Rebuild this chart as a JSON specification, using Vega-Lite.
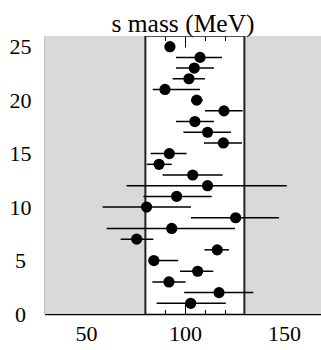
{
  "$schema": "https://vega.github.io/schema/vega-lite/v6.json",
  "width": 276,
  "height": 278,
  "autosize": {"type": "none"},
  "padding": {"left": 45, "top": 36, "right": 0, "bottom": 36},
  "background": "white",
  "config": {
    "font": "Liberation Serif, DejaVu Serif, serif",
    "view": {"stroke": "#555555", "strokeWidth": 1},
    "axis": {"labelFont": "Liberation Serif", "labelFontSize": 22, "labelColor": "black"}
  },
  "title": {
    "text": "s mass (MeV)",
    "font": "Liberation Serif, DejaVu Serif, serif",
    "fontSize": 25.5,
    "fontWeight": "normal",
    "color": "black",
    "baseline": "alphabetic",
    "offset": 6,
    "dy": 28
  },
  "datasets": {
    "bands": [{"lo": 0, "hi": 80}, {"lo": 130, "hi": 200}],
    "edges": [{"x": 80}, {"x": 130}],
    "meas": [
      {"y": 25, "x": 92.4, "lo": 90, "hi": 95},
      {"y": 24, "x": 107.6, "lo": 95.5, "hi": 118.7},
      {"y": 23, "x": 104.7, "lo": 95.5, "hi": 114.6},
      {"y": 22, "x": 102, "lo": 93.8, "hi": 110.1},
      {"y": 21, "x": 89.9, "lo": 83.7, "hi": 107.6},
      {"y": 20, "x": 105.9, "lo": 103, "hi": 109},
      {"y": 19, "x": 119.7, "lo": 110.1, "hi": 129.1},
      {"y": 18, "x": 105, "lo": 95.5, "hi": 114.6},
      {"y": 17, "x": 111.4, "lo": 99.2, "hi": 123.2},
      {"y": 16, "x": 119.4, "lo": 109.6, "hi": 128.8},
      {"y": 15, "x": 92.1, "lo": 82.7, "hi": 100.8},
      {"y": 14, "x": 86.9, "lo": 80.7, "hi": 93.3},
      {"y": 13, "x": 103.9, "lo": 88.7, "hi": 119},
      {"y": 12, "x": 111.4, "lo": 70.5, "hi": 151.4},
      {"y": 11, "x": 95.8, "lo": 79, "hi": 113.5},
      {"y": 10, "x": 80.6, "lo": 58.4, "hi": 103},
      {"y": 9, "x": 125.6, "lo": 103, "hi": 147.5},
      {"y": 8, "x": 93.3, "lo": 60.5, "hi": 125.3},
      {"y": 7, "x": 75.6, "lo": 67.5, "hi": 84},
      {"y": 6, "x": 116.3, "lo": 109.8, "hi": 122.2},
      {"y": 5, "x": 84.3, "lo": 81.5, "hi": 96.6},
      {"y": 4, "x": 106.4, "lo": 97.5, "hi": 114.3},
      {"y": 3, "x": 91.9, "lo": 83.5, "hi": 100.3},
      {"y": 2, "x": 117.2, "lo": 99.6, "hi": 134.5},
      {"y": 1, "x": 102.9, "lo": 85.7, "hi": 120.6}
    ]
  },
  "resolve": {"axis": {"x": "independent", "y": "independent"}},
  "layer": [
    {
      "data": {"name": "bands"},
      "mark": {"type": "rect", "clip": true, "color": "#d9d9d9"},
      "encoding": {
        "x": {
          "field": "lo", "type": "quantitative",
          "scale": {"domain": [29.3, 168.7], "nice": false, "zero": false},
          "axis": {
            "orient": "bottom", "title": null, "grid": false,
            "values": [40, 50, 60, 70, 80, 90, 100, 110, 120, 130, 140, 150, 160],
            "labelExpr": "datum.value % 50 === 0 ? datum.label : ''",
            "labelOverlap": false, "labelFlush": false,
            "labelFont": "Liberation Serif", "labelFontSize": 22, "labelColor": "black",
            "labelPadding": 20,
            "tickSize": {"condition": {"test": "datum.value % 50 === 0", "value": -11}, "value": -4.5},
            "tickColor": "black", "tickWidth": 1,
            "domainColor": "black", "domainWidth": 1.5
          }
        },
        "x2": {"field": "hi"}
      }
    },
    {
      "data": {"name": "edges"},
      "mark": {"type": "rule", "color": "#222222", "strokeWidth": 2},
      "encoding": {
        "x": {
          "field": "x", "type": "quantitative",
          "axis": {
            "orient": "top", "title": null, "grid": false, "labels": false, "domain": false,
            "values": [40, 50, 60, 70, 80, 90, 100, 110, 120, 130, 140, 150, 160],
            "tickSize": {"condition": {"test": "datum.value % 50 === 0", "value": -11}, "value": -4.5},
            "tickColor": "black", "tickWidth": 1
          }
        }
      }
    },
    {
      "data": {"name": "meas"},
      "mark": {"type": "rule", "color": "black", "strokeWidth": 1.5},
      "encoding": {
        "x": {"field": "lo", "type": "quantitative", "axis": null},
        "x2": {"field": "hi"},
        "y": {
          "field": "y", "type": "quantitative",
          "scale": {"domain": [0, 26], "nice": false, "zero": true},
          "axis": {
            "orient": "left", "title": null, "grid": false,
            "values": [0, 5, 10, 15, 20, 25],
            "labelFont": "Liberation Serif", "labelFontSize": 22, "labelColor": "black",
            "labelAlign": "center", "labelBaseline": "middle",
            "labelPadding": 36,
            "tickSize": -11, "tickColor": "black", "tickWidth": 1,
            "domainColor": "black", "domainWidth": 1.5
          }
        }
      }
    },
    {
      "data": {"name": "meas"},
      "mark": {"type": "circle", "color": "black", "opacity": 1, "size": 125},
      "encoding": {
        "x": {"field": "x", "type": "quantitative", "axis": null},
        "y": {
          "field": "y", "type": "quantitative",
          "axis": {
            "orient": "right", "title": null, "grid": false, "labels": false, "domain": false,
            "values": [0, 5, 10, 15, 20, 25],
            "tickSize": -11, "tickColor": "black", "tickWidth": 1
          }
        }
      }
    }
  ]
}
